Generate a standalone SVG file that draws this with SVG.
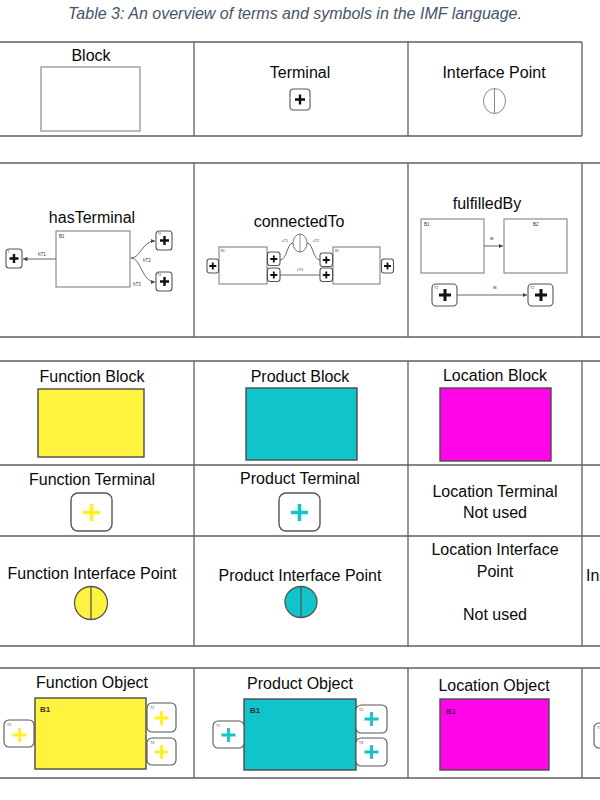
<svg xmlns="http://www.w3.org/2000/svg" width="600" height="800" viewBox="0 0 600 800">
<style>
.grid line{stroke:#5f5f5f;stroke-width:1.3}
.lbl{font-family:"Liberation Sans",Arial,sans-serif;font-size:16px;fill:#0a0a0a;text-anchor:middle}
.title{font-family:"Liberation Sans",Arial,sans-serif;font-size:16px;font-style:italic;fill:#44546A;text-anchor:middle}
.tiny{font-family:"Liberation Sans",Arial,sans-serif;font-size:4.5px;fill:#333}
.b1{font-family:"Liberation Sans",Arial,sans-serif;font-size:8px;font-weight:bold;fill:#333}
.term{fill:#fff;stroke:#555;stroke-width:1.1}
.pk{stroke:#111;stroke-width:2.4;fill:none}
.box{fill:#fff;stroke:#777;stroke-width:1}
.edge{stroke:#555;stroke-width:0.9;fill:none}
.blk{stroke:#4a4a4a;stroke-width:1.4}
.fy{fill:#FFF33F}
.pt{fill:#10C4CC}
.lm{fill:#FF06E8}
.py{stroke:#FFF01E;stroke-width:3.6;fill:none}
.pc{stroke:#14C2CC;stroke-width:3.6;fill:none}
</style>
<defs>
<marker id="ah" viewBox="0 0 6 6" refX="6" refY="3" markerWidth="5" markerHeight="5" orient="auto">
<path d="M0,0 L6,3 L0,6 Z" fill="#444"/>
</marker>
</defs>

<text class="title" x="295" y="18.5">Table 3: An overview of terms and symbols in the IMF language.</text>

<g id="grid" class="grid">
<line x1="0" y1="42" x2="582" y2="42"/>
<line x1="0" y1="136" x2="582" y2="136"/>
<line x1="194" y1="42" x2="194" y2="136"/>
<line x1="408" y1="42" x2="408" y2="136"/>
<line x1="582" y1="42" x2="582" y2="136"/>
<line x1="0" y1="163" x2="600" y2="163"/>
<line x1="0" y1="337" x2="600" y2="337"/>
<line x1="194" y1="163" x2="194" y2="337"/>
<line x1="408" y1="163" x2="408" y2="337"/>
<line x1="582" y1="163" x2="582" y2="337"/>
<line x1="0" y1="361" x2="600" y2="361"/>
<line x1="0" y1="465" x2="600" y2="465"/>
<line x1="0" y1="536" x2="600" y2="536"/>
<line x1="0" y1="646" x2="600" y2="646"/>
<line x1="194" y1="361" x2="194" y2="646"/>
<line x1="408" y1="361" x2="408" y2="646"/>
<line x1="582" y1="361" x2="582" y2="646"/>
<line x1="0" y1="668" x2="600" y2="668"/>
<line x1="0" y1="778" x2="600" y2="778"/>
<line x1="194" y1="668" x2="194" y2="778"/>
<line x1="408" y1="668" x2="408" y2="778"/>
<line x1="582" y1="668" x2="582" y2="778"/>
</g>

<!-- Row 1 -->
<g id="cell-block">
<text class="lbl" x="91" y="60.5">Block</text>
<rect x="41" y="67" width="99" height="64" fill="#fff" stroke="#8a8a8a" stroke-width="1.2"/>
</g>
<g id="cell-terminal">
<text class="lbl" x="300" y="77.5">Terminal</text>
<rect class="term" x="290" y="89" width="20" height="21" rx="3.5"/>
<path class="pk" d="M300,94.5 V104.5 M295,99.5 H305"/>
</g>
<g id="cell-interface">
<text class="lbl" x="494" y="77.5">Interface Point</text>
<ellipse cx="494.5" cy="101" rx="11" ry="12.5" fill="#fff" stroke="#888" stroke-width="1"/>
<line x1="494.5" y1="88.5" x2="494.5" y2="113.5" stroke="#888" stroke-width="1"/>
</g>

<!-- Row 2: relations -->
<g id="cell-hasTerminal">
<text class="lbl" x="92" y="222.5">hasTerminal</text>
<rect class="box" x="56" y="231" width="74" height="56"/>
<text class="tiny" x="59" y="238">B1</text>
<rect class="term" x="6" y="249" width="16" height="19" rx="3"/>
<path class="pk" d="M14,254 V263 M9.5,258.5 H18.5"/>
<text class="tiny" x="7.5" y="253" style="font-size:3px">1</text>
<rect class="term" x="156" y="231" width="16" height="19" rx="3"/>
<path class="pk" d="M164.5,236 V245 M160,240.5 H169"/>
<text class="tiny" x="157.5" y="235" style="font-size:3px">T2</text>
<rect class="term" x="156" y="272" width="16" height="19" rx="3"/>
<path class="pk" d="M164.5,277 V286 M160,281.5 H169"/>
<text class="tiny" x="157.5" y="276" style="font-size:3px">T3</text>
</g>
<g id="cell-connectedTo">
<text class="lbl" x="299" y="226.5">connectedTo</text>
<rect class="box" x="219" y="247" width="48" height="37"/>
<text class="tiny" x="221" y="252" style="font-size:3px">B1</text>
<rect class="box" x="333" y="247" width="47" height="37"/>
<text class="tiny" x="335" y="252" style="font-size:3px">B2</text>
<rect class="term" x="207" y="259" width="11.5" height="14" rx="2.5"/>
<path class="pk" style="stroke-width:1.8" d="M212.8,262.5 V269.5 M209.3,266 H216.3"/>
<rect class="term" x="267.5" y="252" width="12.5" height="13.5" rx="2.5"/>
<path class="pk" style="stroke-width:1.8" d="M273.8,255.5 V262.5 M270.3,259 H277.3"/>
<rect class="term" x="267.5" y="268" width="12.5" height="13.5" rx="2.5"/>
<path class="pk" style="stroke-width:1.8" d="M273.8,271.5 V278.5 M270.3,275 H277.3"/>
<rect class="term" x="320" y="253" width="12.5" height="13.5" rx="2.5"/>
<path class="pk" style="stroke-width:1.8" d="M326.3,256.5 V263.5 M322.8,260 H329.8"/>
<rect class="term" x="320" y="268" width="12.5" height="13.5" rx="2.5"/>
<path class="pk" style="stroke-width:1.8" d="M326.3,271.5 V278.5 M322.8,275 H329.8"/>
<rect class="term" x="381.5" y="259" width="12" height="14" rx="2.5"/>
<path class="pk" style="stroke-width:1.8" d="M387.5,262.5 V269.5 M384,266 H391"/>
<ellipse cx="300" cy="243" rx="7" ry="9" fill="#fff" stroke="#666" stroke-width="0.9"/>
<line x1="300" y1="234" x2="300" y2="252" stroke="#666" stroke-width="0.7"/>
<text class="tiny" x="282" y="242" style="font-size:3.5px">cT1</text>
<text class="tiny" x="313" y="242" style="font-size:3.5px">cT2</text>
<text class="tiny" x="297" y="271" style="font-size:3.5px">cT3</text>
</g>
<g id="cell-fulfilledBy">
<text class="lbl" x="487" y="208.5">fulfilledBy</text>
<rect class="box" x="421" y="219" width="63" height="54"/>
<text class="tiny" x="424" y="226">B1</text>
<rect class="box" x="504" y="219" width="63" height="54"/>
<text class="tiny" x="533" y="226">B2</text>
<text class="tiny" x="490" y="240" style="font-size:4px">fB</text>
<rect class="term" x="432" y="284" width="25" height="22" rx="4"/>
<path class="pk" style="stroke-width:3" d="M445,289 V301 M439,295 H451"/>
<text class="tiny" x="434" y="289" style="font-size:3.5px">T1</text>
<rect class="term" x="528" y="284" width="25" height="22" rx="4"/>
<path class="pk" style="stroke-width:3" d="M541,289 V301 M535,295 H547"/>
<text class="tiny" x="530" y="289" style="font-size:3.5px">T2</text>
<text class="tiny" x="493" y="289" style="font-size:4px">fB</text>
</g>

<g id="connectors">
<path class="edge" d="M56,259 L23,259" marker-end="url(#ah)"/>
<text class="tiny" x="38" y="256">hT1</text>
<path class="edge" d="M131,258 C141,258 142,241 155,241" marker-end="url(#ah)"/>
<path class="edge" d="M131,258 C141,258 142,282 155,282" marker-end="url(#ah)"/>
<text class="tiny" x="143" y="262">hT2</text>
<text class="tiny" x="133" y="286">hT3</text>
<path class="edge" d="M280,260 C287,260 287,243 293,243"/>
<path class="edge" d="M307,243 C313,243 313,260 320,260"/>
<path class="edge" d="M280,275 L320,275"/>
<path class="edge" d="M484,246 L503,246" marker-end="url(#ah)"/>
<path class="edge" d="M457,295 L527,295" marker-end="url(#ah)"/>
</g>

<!-- Row 3: blocks -->
<g id="cell-function-block">
<text class="lbl" x="92" y="381.5">Function Block</text>
<rect class="fy blk" x="38" y="389" width="106" height="68"/>
</g>
<g id="cell-product-block">
<text class="lbl" x="300" y="381.5">Product Block</text>
<rect class="pt blk" x="246" y="388" width="111" height="72"/>
</g>
<g id="cell-location-block">
<text class="lbl" x="495" y="380.5">Location Block</text>
<rect class="lm blk" x="440" y="388" width="111" height="73"/>
</g>

<!-- Row 4: terminals -->
<g id="cell-function-terminal">
<text class="lbl" x="92" y="484.5">Function Terminal</text>
<rect class="term" x="71" y="493" width="41" height="38" rx="7" style="stroke-width:1.4"/>
<path class="py" d="M91.5,504 V521 M83,512.5 H100"/>
</g>
<g id="cell-product-terminal">
<text class="lbl" x="300" y="484">Product Terminal</text>
<rect class="term" x="279" y="493" width="41" height="38" rx="7" style="stroke-width:1.4"/>
<path class="pc" d="M299.5,504 V521 M291,512.5 H308"/>
</g>
<g id="cell-location-terminal">
<text class="lbl" x="495" y="496.5">Location Terminal</text>
<text class="lbl" x="495" y="517.5">Not used</text>
</g>

<!-- Row 5: interface points -->
<g id="cell-function-ip">
<text class="lbl" x="92" y="578.5">Function Interface Point</text>
<circle class="fy" cx="91" cy="603" r="16.5" stroke="#555" stroke-width="1.3"/>
<line x1="91" y1="586.5" x2="91" y2="619.5" stroke="#555" stroke-width="1.3"/>
</g>
<g id="cell-product-ip">
<text class="lbl" x="300" y="580.5">Product Interface Point</text>
<ellipse class="pt" cx="301" cy="602" rx="16" ry="15.5" stroke="#555" stroke-width="1.3"/>
<line x1="301" y1="586.5" x2="301" y2="617.5" stroke="#555" stroke-width="1.3"/>
</g>
<g id="cell-location-ip">
<text class="lbl" x="495" y="554.5">Location Interface</text>
<text class="lbl" x="495" y="576.5">Point</text>
<text class="lbl" x="495" y="619.5">Not used</text>
</g>
<g id="cell-col4-ip">
<text class="lbl" x="586" y="580.5" style="text-anchor:start">In</text>
</g>

<!-- Row 6: objects -->
<g id="cell-function-object">
<text class="lbl" x="92" y="687.5">Function Object</text>
<rect class="fy blk" x="35" y="698" width="111" height="71"/>
<text class="b1" x="40" y="712">B1</text>
<rect class="term" x="4" y="720" width="30" height="27" rx="5"/>
<path class="py" style="stroke-width:2.8" d="M19.5,728 V742 M12.5,735 H26.5"/>
<text class="tiny" x="7" y="726" style="font-size:3.5px">T1</text>
<rect class="term" x="147" y="703" width="29" height="29" rx="5"/>
<path class="py" style="stroke-width:2.8" d="M161.5,711 V725 M154.5,718 H168.5"/>
<text class="tiny" x="150" y="709" style="font-size:3.5px">T2</text>
<rect class="term" x="147" y="738" width="29" height="27" rx="5"/>
<path class="py" style="stroke-width:2.8" d="M161.5,745 V759 M154.5,752 H168.5"/>
<text class="tiny" x="150" y="744" style="font-size:3.5px">T3</text>
</g>
<g id="cell-product-object">
<text class="lbl" x="300" y="688.5">Product Object</text>
<rect class="pt blk" x="244" y="699" width="112" height="71"/>
<text class="b1" x="250" y="713">B1</text>
<rect class="term" x="213" y="721" width="31" height="27" rx="5"/>
<path class="pc" style="stroke-width:2.8" d="M228.5,728 V742 M221.5,735 H235.5"/>
<text class="tiny" x="216" y="727" style="font-size:3.5px">T1</text>
<rect class="term" x="356" y="705" width="31" height="28" rx="5"/>
<path class="pc" style="stroke-width:2.8" d="M371.5,712 V726 M364.5,719 H378.5"/>
<text class="tiny" x="359" y="711" style="font-size:3.5px">T2</text>
<rect class="term" x="356" y="738" width="31" height="28" rx="5"/>
<path class="pc" style="stroke-width:2.8" d="M371.5,745 V759 M364.5,752 H378.5"/>
<text class="tiny" x="359" y="744" style="font-size:3.5px">T3</text>
</g>
<g id="cell-location-object">
<text class="lbl" x="494" y="690.5">Location Object</text>
<rect class="lm blk" x="440" y="699" width="109" height="71"/>
<text class="b1" x="446" y="714" style="fill:#5a105a">B1</text>
</g>
<g id="cell-col4-object">
<rect class="term" x="594" y="723" width="30" height="25" rx="5"/>
<text class="tiny" x="597" y="729" style="font-size:3.5px">T1</text>
</g>
</svg>
